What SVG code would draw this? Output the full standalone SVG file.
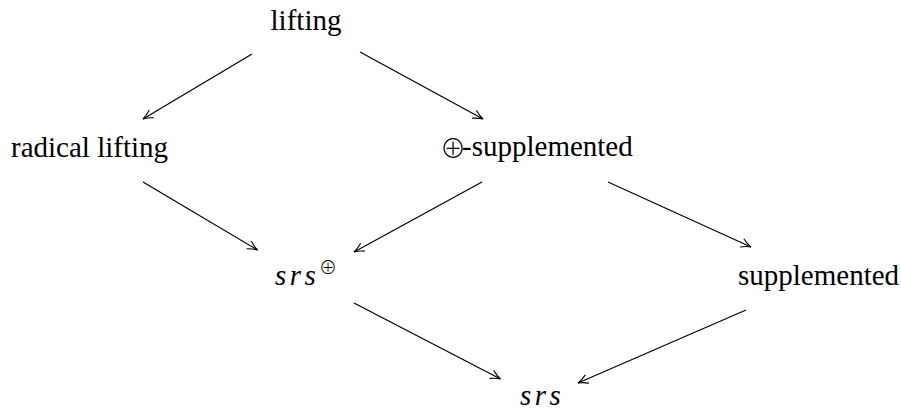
<svg xmlns="http://www.w3.org/2000/svg" width="901" height="410" viewBox="0 0 901 410">
<style>
.t{font-family:"Liberation Serif","Times New Roman",serif;font-size:29px;fill:#000}
.m{font-family:"Liberation Serif","Times New Roman",serif;font-style:italic;font-size:29px;letter-spacing:3.5px;fill:#000}
.op{font-family:"Noto Sans CJK SC","DejaVu Sans",sans-serif;font-weight:300;font-style:normal;letter-spacing:0}
.c line{stroke:#000;stroke-width:1.2;fill:none;marker-end:url(#ah)}
</style>
<defs>
<marker id="ah" markerUnits="userSpaceOnUse" viewBox="-12 -7 14 14" refX="0" refY="0" markerWidth="14" markerHeight="14" orient="auto" overflow="visible">
<path d="M-10,-4.5 C-6,-2 -2.5,-0.6 0,0 C-2.5,0.6 -6,2 -10,4.5" fill="none" stroke="#000" stroke-width="1.1"/>
</marker>
</defs>
<rect width="901" height="410" fill="#fff"/>
<g id="lifting"><text class="t" x="306" y="30" text-anchor="middle">lifting</text></g>
<g id="radical-lifting"><text class="t" x="11" y="157">radical lifting</text></g>
<g id="oplus-supplemented"><text class="t" x="440" y="156"><tspan class="op" font-size="26" dy="2" style="letter-spacing:-4px">⊕</tspan><tspan dy="-2">-supplemented</tspan></text></g>
<g id="supplemented"><text class="t" x="738" y="285">supplemented</text></g>
<g id="srs-oplus"><text class="m" x="275" y="285">srs<tspan class="op" font-size="18" x="319" dy="-11">⊕</tspan></text></g>
<g id="srs"><text class="m" x="520" y="405">srs</text></g>
<g id="connectors" class="c">
<line x1="252" y1="54" x2="143" y2="119"/>
<line x1="360" y1="52" x2="483" y2="119"/>
<line x1="143" y1="182" x2="257.5" y2="250"/>
<line x1="482" y1="182" x2="354" y2="252"/>
<line x1="608" y1="182" x2="751" y2="247"/>
<line x1="746" y1="310" x2="578" y2="383"/>
<line x1="354" y1="303" x2="500.5" y2="379"/>
</g>
</svg>
